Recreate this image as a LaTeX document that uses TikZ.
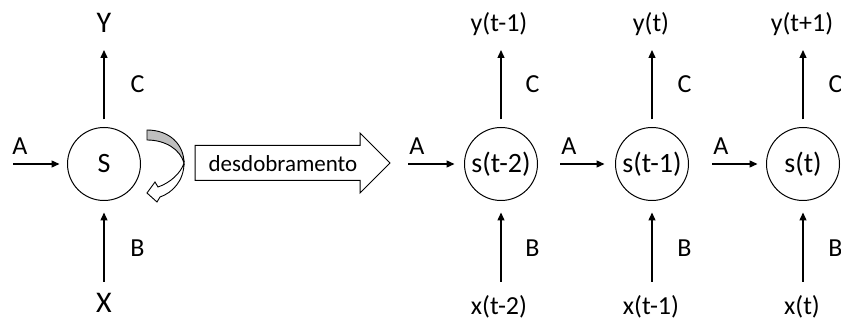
\documentclass[tikz,border=0pt]{standalone}
\usepackage{fontspec}
\setmainfont{Carlito}
\usetikzlibrary{arrows.meta,positioning}

\begin{document}
\begin{tikzpicture}[x=1pt,y=1pt,
  state/.style={draw, circle, line width=1pt, minimum size=73pt, inner sep=0pt, font=\fontsize{28}{32}\selectfont},
  flow/.style={-{Triangle[length=8pt,width=7pt]}, line width=1.4pt},
  lbl/.style={anchor=base, font=\fontsize{26}{30}\selectfont},
  sig/.style={anchor=base, font=\fontsize{26}{30}\selectfont},
  big/.style={anchor=base, font=\fontsize{30}{34}\selectfont}]
  \clip (0,0) rectangle (841,321);
  \useasboundingbox (0,0) rectangle (841,321);

  % Folded network
  \node[state] (S) at (104,157) {S};
  \coordinate (inA) at (13,157);
  \coordinate (outY) at (104,271);
  \coordinate (inX) at (104,39);
  \draw[flow, shorten >=7.5pt] (inA) -- (S);
  \draw[flow, shorten <=7.5pt] (S) -- (outY);
  \draw[flow, shorten >=11.5pt] (inX) -- (S);
  \node[big] (labY) at (104,288) {Y};
  \node[big] (labX) at (104,8) {X};
  \node[lbl] (aS) at (20,166) {A};
  \node[lbl] (cS) at (137.5,228) {C};
  \node[lbl] (bS) at (137.5,64) {B};

  % Recurrent loop (twisted ribbon arrow)
  \draw[line width=0.9pt, fill=black!25] (147,191) .. controls (170,191) and (184,176) .. (184,158)
    .. controls (180,172) and (165,181) .. (147,181) -- cycle;
  \draw[line width=0.9pt, fill=white] (184,158) .. controls (184,140) and (172,128) .. (160,124)
    -- (157,119) -- (147,128) -- (155,139) -- (158,134)
    .. controls (170,138) and (181,148) .. (184,158) -- cycle;

  % Unfolding arrow
  \draw[line width=1pt, fill=white] (195,175.5) -- (360,175.5) -- (360,188) -- (390,158)
    -- (360,128) -- (360,140.5) -- (195,140.5) -- cycle;
  \node[anchor=base, font=\fontsize{23}{27}\selectfont] (unfold) at (283,149) {desdobramento};

  % Unfolded network
  \node[state] (s1) at (501,157) {s(t-2)};
  \node[state] (s2) at (652,157) {s(t-1)};
  \node[state] (s3) at (803,157) {s(t)};
  \coordinate (in1) at (408,157);
  \coordinate (in2) at (560,157);
  \coordinate (in3) at (712,157);
  \draw[flow, shorten >=9.5pt] (in1) -- (s1);
  \draw[flow, shorten >=10.5pt] (in2) -- (s2);
  \draw[flow, shorten >=8.5pt] (in3) -- (s3);
  \node[lbl] (a1) at (417,166) {A};
  \node[lbl] (a2) at (569,166) {A};
  \node[lbl] (a3) at (721,166) {A};
  \coordinate (y1) at (501,271);
  \coordinate (y2) at (652,271);
  \coordinate (y3) at (803,271);
  \draw[flow, shorten <=7.5pt] (s1) -- (y1);
  \draw[flow, shorten <=7.5pt] (s2) -- (y2);
  \draw[flow, shorten <=7.5pt] (s3) -- (y3);
  \coordinate (x1) at (501,39);
  \coordinate (x2) at (652,39);
  \coordinate (x3) at (803,39);
  \draw[flow, shorten >=11.5pt] (x1) -- (s1);
  \draw[flow, shorten >=11.5pt] (x2) -- (s2);
  \draw[flow, shorten >=11.5pt] (x3) -- (s3);
  \node[sig] (ly1) at (499,289) {y(t-1)};
  \node[sig] (ly2) at (651,289) {y(t)};
  \node[sig] (ly3) at (802,289) {y(t+1)};
  \node[sig] (lx1) at (499,6) {x(t-2)};
  \node[sig] (lx2) at (651,6) {x(t-1)};
  \node[sig] (lx3) at (802,6) {x(t)};
  \node[lbl] (c1) at (532.5,228) {C};
  \node[lbl] (c2) at (684.5,228) {C};
  \node[lbl] (c3) at (835.5,228) {C};
  \node[lbl] (b1) at (532.5,64) {B};
  \node[lbl] (b2) at (684.5,64) {B};
  \node[lbl] (b3) at (835.5,64) {B};
\end{tikzpicture}
\end{document}
